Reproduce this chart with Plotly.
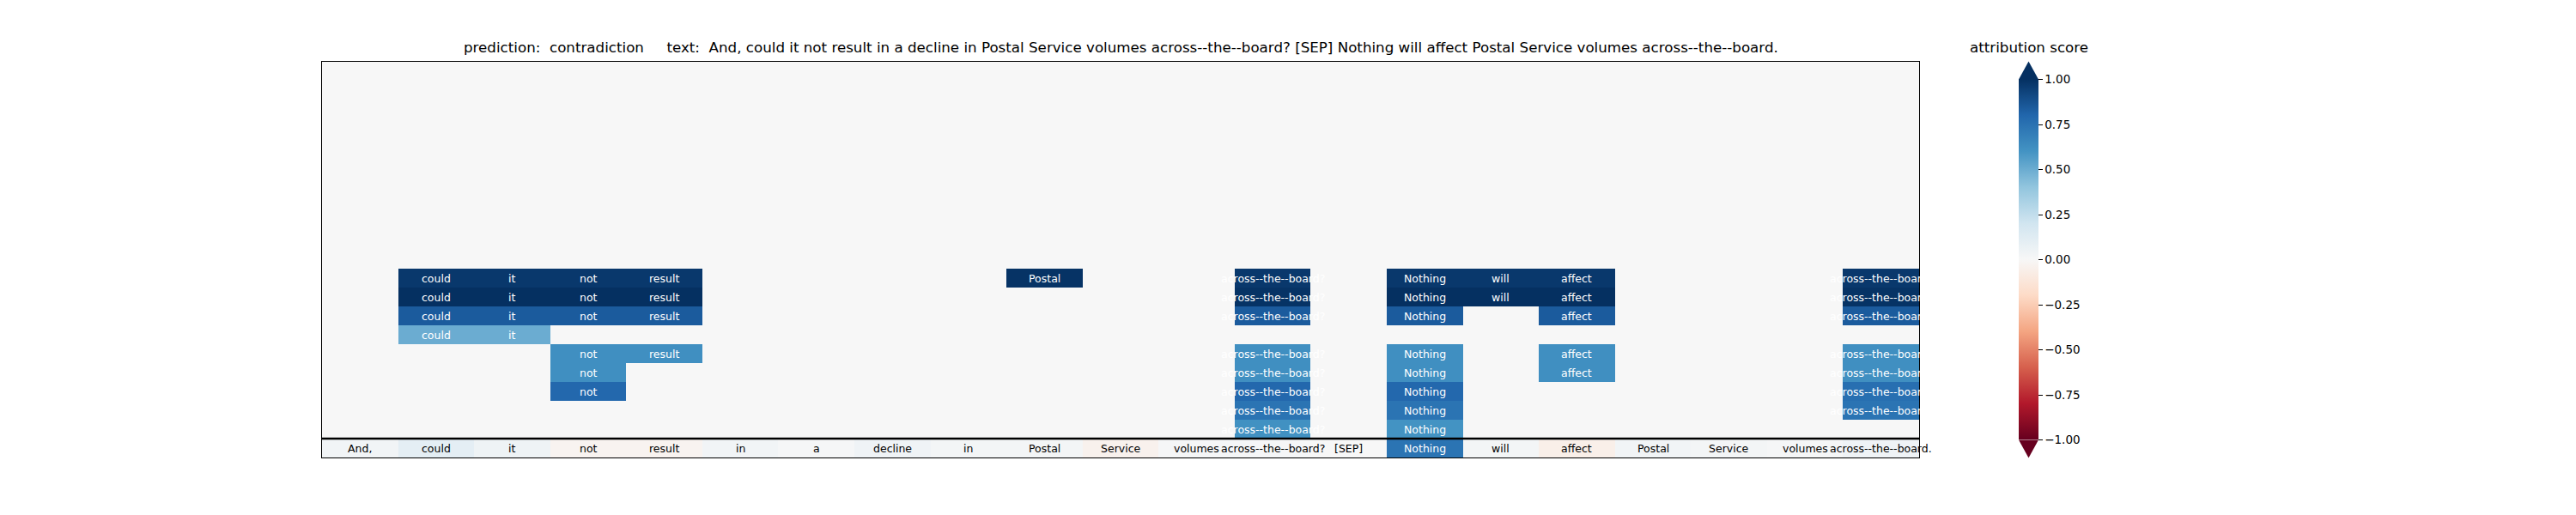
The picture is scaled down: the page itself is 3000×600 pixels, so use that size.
import plotly.graph_objects as go

tokens = ['And,', 'could', 'it', 'not', 'result', 'in', 'a', 'decline', 'in', 'Postal',
          'Service', 'volumes', 'across--the--board?', '[SEP]', 'Nothing', 'will',
          'affect', 'Postal', 'Service', 'volumes', 'across--the--board.']

token_scores = [0.03, 0.10, 0.05, -0.03, -0.03, 0.03, 0.01, 0.04, 0.02, 0.02,
                -0.04, 0.01, 0.01, 0.0, 0.74, 0.02, -0.06, 0.03, 0.02, 0.01, 0.04]

# attribution spans, top to bottom (rows above the token row)
span_1 = [0, 0.97, 0.97, 0.97, 0.97, 0, 0, 0, 0, 0.99, 0, 0, 0.97, 0, 0.97, 0.97, 0.97, 0, 0, 0, 0.97]
span_2 = [0, 1.0, 1.0, 1.0, 1.0, 0, 0, 0, 0, 0, 0, 0, 0.99, 0, 1.0, 1.0, 1.0, 0, 0, 0, 0.99]
span_3 = [0, 0.84, 0.84, 0.84, 0.84, 0, 0, 0, 0, 0, 0, 0, 0.84, 0, 0.84, 0, 0.84, 0, 0, 0, 0.84]
span_4 = [0, 0.50, 0.50, 0, 0, 0, 0, 0, 0, 0, 0, 0, 0, 0, 0, 0, 0, 0, 0, 0, 0]
span_5 = [0, 0, 0, 0.62, 0.62, 0, 0, 0, 0, 0, 0, 0, 0.62, 0, 0.62, 0, 0.62, 0, 0, 0, 0.62]
span_6 = [0, 0, 0, 0.62, 0, 0, 0, 0, 0, 0, 0, 0, 0.62, 0, 0.62, 0, 0.62, 0, 0, 0, 0.62]
span_7 = [0, 0, 0, 0.79, 0, 0, 0, 0, 0, 0, 0, 0, 0.79, 0, 0.79, 0, 0, 0, 0, 0, 0.76]
span_8 = [0, 0, 0, 0, 0, 0, 0, 0, 0, 0, 0, 0, 0.74, 0, 0.74, 0, 0, 0, 0, 0, 0.74]
span_9 = [0, 0, 0, 0, 0, 0, 0, 0, 0, 0, 0, 0, 0.61, 0, 0.60, 0, 0, 0, 0, 0, 0]

n = len(tokens)
spans = [span_1, span_2, span_3, span_4, span_5, span_6, span_7, span_8, span_9]
z = [[0.0] * n for _ in range(n - 1 - len(spans))] + spans + [token_scores]

rdbu = ['rgb(103,0,31)', 'rgb(178,24,43)', 'rgb(214,96,77)', 'rgb(244,165,130)',
        'rgb(253,219,199)', 'rgb(247,247,247)', 'rgb(209,229,240)', 'rgb(146,197,222)',
        'rgb(67,147,195)', 'rgb(33,102,172)', 'rgb(5,48,97)']
scale = [[i / 10, c] for i, c in enumerate(rdbu)]

# page body adds an 8px margin, so pull everything back by that much
off = 8
W, H = 3000, 600
L, T = 375 - off, 72 - off
R, B = W - (2235 - off), H - (533 - off)
pw, ph = W - L - R, H - T - B

cb_left, cb_right = 2351 - off, 2374 - off

fig = go.Figure(go.Heatmap(
    z=z, x=list(range(n)), y=list(range(n)),
    colorscale=scale, zmin=-1, zmax=1, hoverinfo='skip',
    colorbar=dict(
        x=(cb_left - L) / pw, xanchor='left', xpad=0,
        y=0.5, yanchor='middle', ypad=0,
        len=420, lenmode='pixels', thickness=cb_right - cb_left, thicknessmode='pixels',
        outlinewidth=0,
        tickvals=[1, 0.75, 0.5, 0.25, 0, -0.25, -0.5, -0.75, -1],
        ticktext=['1.00', '0.75', '0.50', '0.25', '0.00', '\u22120.25', '\u22120.50', '\u22120.75', '\u22121.00'],
        ticks='outside', ticklen=5, tickwidth=1, tickcolor='black',
        tickfont=dict(family='DejaVu Sans', size=13.5, color='black'),
    ),
))

# word labels in each non-zero cell
annotations = []
for r, row in enumerate(z):
    for c, v in enumerate(row):
        if v == 0 and r < n - 1:
            continue
        annotations.append(dict(
            x=c, y=r, xref='x', yref='y', text=tokens[c], showarrow=False,
            font=dict(family='DejaVu Sans', size=12.5, color='white' if abs(v) > 0.3 else 'black'),
        ))

title = ('prediction:\u00a0\u00a0contradiction\u00a0\u00a0\u00a0\u00a0\u00a0text:\u00a0\u00a0'
         + ' '.join(tokens))
annotations.append(dict(x=0.5, y=1, xref='paper', yref='paper', xanchor='center', yanchor='bottom',
                        yshift=5, text=title, showarrow=False,
                        font=dict(family='DejaVu Sans', size=16.7, color='black')))
annotations.append(dict(x=((cb_left + cb_right) / 2 - L) / pw, y=1, xref='paper', yref='paper',
                        xanchor='center', yanchor='bottom', yshift=5,
                        text='attribution score', showarrow=False,
                        font=dict(family='DejaVu Sans', size=16.7, color='black')))

# colorbar extension triangles
cx0, cx1 = (cb_left - L) / pw, (cb_right - L) / pw
cm = (cx0 + cx1) / 2
btop, bbot = 0.5 + 210 / ph, 0.5 - 210 / ph
tri = 21 / ph
shapes = [
    dict(type='path', xref='paper', yref='paper', line_width=0, fillcolor=rdbu[-1],
         path=f'M {cx0} {btop} L {cx1} {btop} L {cm} {btop + tri} Z'),
    dict(type='path', xref='paper', yref='paper', line_width=0, fillcolor=rdbu[0],
         path=f'M {cx0} {bbot} L {cx1} {bbot} L {cm} {bbot - tri} Z'),
    dict(type='line', xref='x', yref='y', x0=-0.5, x1=n - 0.5, y0=n - 1.5, y1=n - 1.5,
         line=dict(color='black', width=2.5)),
]

fig.update_layout(
    width=W, height=H, margin=dict(l=L, r=R, t=T, b=B, autoexpand=False),
    paper_bgcolor='white', plot_bgcolor='white',
    annotations=annotations, shapes=shapes,
    xaxis=dict(range=[-0.5, n - 0.5], showticklabels=False, ticks='', showgrid=False, zeroline=False,
               showline=True, mirror=True, linecolor='black', linewidth=1),
    yaxis=dict(range=[n - 0.5, -0.5], showticklabels=False, ticks='', showgrid=False, zeroline=False,
               showline=True, mirror=True, linecolor='black', linewidth=1),
)

fig.write_html('out.html')
